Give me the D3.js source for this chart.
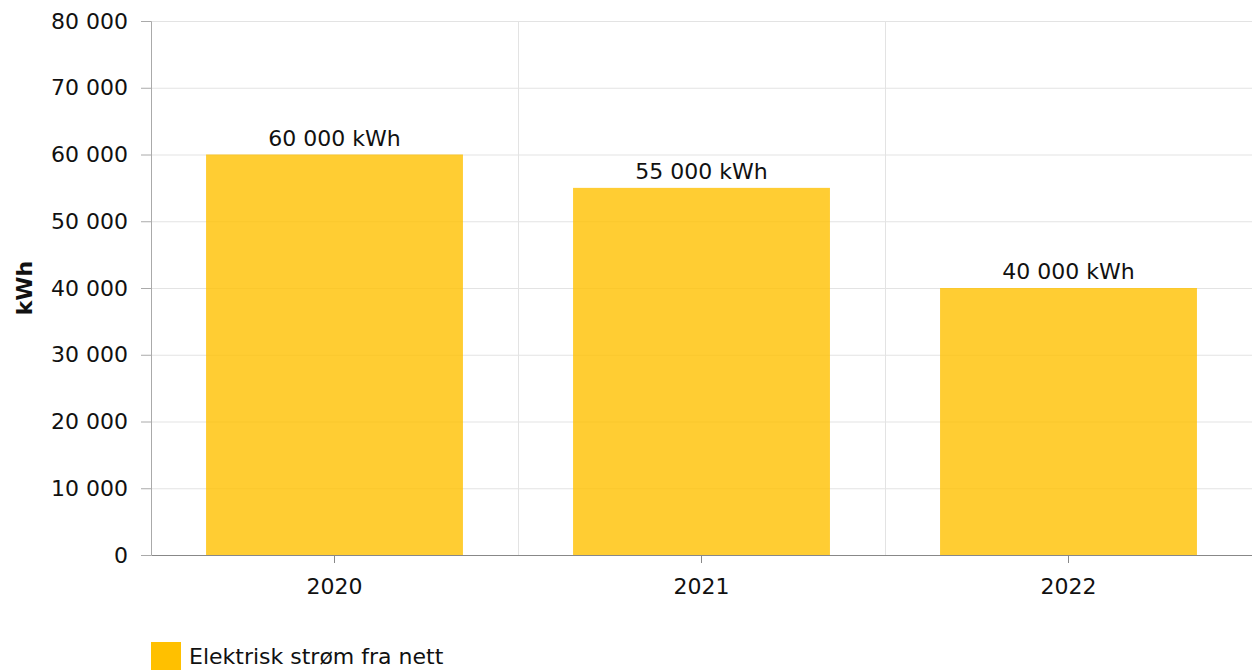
<!DOCTYPE html>
<html><head><meta charset="utf-8">
<script src="https://cdn.jsdelivr.net/npm/d3@7"></script>
<style>
html,body{margin:0;padding:0;background:#fff;}
svg{display:block;font-family:"DejaVu Sans",Verdana,sans-serif;}
</style></head>
<body>
<svg id="c" width="1252" height="670"></svg>
<script>
const categories = ["2020", "2021", "2022"];
const values = [60000, 55000, 40000];
const yTicks = [0, 10000, 20000, 30000, 40000, 50000, 60000, 70000, 80000];
const seriesName = "Elektrisk strøm fra nett";
const unit = "kWh";

const svg = d3.select("#c");
const m = {left:151, right:1252, top:21, bottom:555};
const fs = 22;
const fmt = v => d3.format(",")(v).replace(/,/g, " ");

const x = d3.scaleBand().domain(categories).range([m.left, m.right]).padding(0);
const y = d3.scaleLinear().domain([0, 80000]).range([m.bottom, m.top]);

// horizontal grid
svg.append("g").selectAll("line").data(yTicks).join("line")
  .attr("x1", m.left).attr("x2", m.right)
  .attr("y1", d => y(d) + 0.5).attr("y2", d => y(d) + 0.5)
  .attr("stroke", "#e3e3e3").attr("stroke-width", 1);
// vertical grid at band boundaries
svg.append("g").selectAll("line").data(categories.slice(1)).join("line")
  .attr("x1", d => Math.round(x(d)) + 0.5).attr("x2", d => Math.round(x(d)) + 0.5)
  .attr("y1", m.top).attr("y2", m.bottom)
  .attr("stroke", "#e3e3e3").attr("stroke-width", 1);

// bars
const bw = x.bandwidth() * 0.7;
svg.append("g").selectAll("rect").data(values).join("rect")
  .attr("x", (d, i) => x(categories[i]) + (x.bandwidth() - bw) / 2)
  .attr("y", d => y(d))
  .attr("width", bw)
  .attr("height", d => y(0) - y(d))
  .attr("fill", "#FFC000").attr("fill-opacity", 0.8);

// labels
svg.append("g").selectAll("text").data(values).join("text")
  .attr("x", (d, i) => x(categories[i]) + x.bandwidth() / 2)
  .attr("y", d => y(d) - 9)
  .attr("text-anchor", "middle")
  .attr("font-size", fs).attr("fill", "#111")
  .text(d => fmt(d) + " " + unit);

// y axis
const yAxis = svg.append("g").attr("transform", `translate(${m.left},0)`)
  .call(d3.axisLeft(y).tickValues(yTicks).tickFormat(fmt).tickSize(10).tickPadding(13));
yAxis.select(".domain").attr("stroke", "#aaa").attr("d", `M-10,${m.top+0.5}H0.5V${m.bottom}`);
yAxis.selectAll(".tick line").attr("stroke", "#aaa");
yAxis.selectAll(".tick text").attr("font-size", fs).attr("fill", "#111").attr("font-family", "DejaVu Sans");

// x axis
const xAxis = svg.append("g").attr("transform", `translate(0,${m.bottom})`)
  .call(d3.axisBottom(x).tickSize(8).tickPadding(15).tickSizeOuter(0));
xAxis.select(".domain").attr("stroke", "#888");
xAxis.selectAll(".tick line").attr("stroke", "#888");
xAxis.selectAll(".tick text").attr("font-size", fs).attr("fill", "#111").attr("font-family", "DejaVu Sans");

// y title
svg.append("text")
  .attr("transform", `translate(32,${(m.top + m.bottom) / 2}) rotate(-90)`)
  .attr("text-anchor", "middle").attr("font-size", fs).attr("font-weight", "bold").attr("fill", "#111")
  .text(unit);

// legend
svg.append("rect").attr("x", 151).attr("y", 642).attr("width", 30).attr("height", 30).attr("fill", "#FFC000");
svg.append("text").attr("x", 189).attr("y", 664).attr("font-size", fs).attr("fill", "#111").text(seriesName);
</script>
</body></html>
